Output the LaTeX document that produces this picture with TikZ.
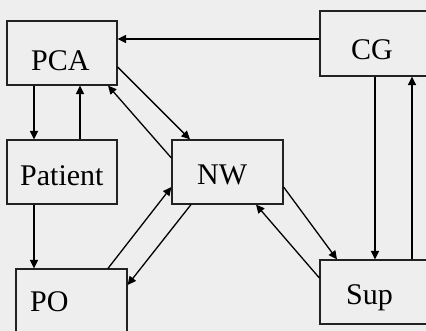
\documentclass[tikz,border=0pt]{standalone}
\usepackage{fontspec}
\setmainfont{Liberation Serif}
\usetikzlibrary{arrows.meta}
\definecolor{paper}{HTML}{EEEEEE}
\definecolor{edge}{HTML}{222222}
\begin{document}
\begin{tikzpicture}[x=1pt,y=-1pt,
  box/.style={draw=edge,fill=paper,line width=1.2pt,rectangle,inner sep=0pt,
    minimum width=111pt,minimum height=64pt},
  lbl/.style={anchor=base west,inner sep=0pt,font=\fontsize{30}{36}\selectfont},
  arr/.style={-{Triangle[length=8.5pt,width=8pt]},line width=1.3pt,black}]
  % page and clipping
  \fill[paper] (0,0) rectangle (426,331);
  \useasboundingbox (0,0) rectangle (426,331);
  \clip (0,0) rectangle (426,331);

  % boxes
  \node[box,minimum width=110pt] (pca) at (62,53) {};
  \node[box,minimum width=110pt] (patient) at (62,172) {};
  \node[box] (po) at (71.5,301) {};
  \node[box] (nw) at (227.5,172) {};
  \node[box,minimum height=65pt] (cg) at (375.5,43.5) {};
  \node[box] (sup) at (375.5,292) {};

  % labels
  \node[lbl] (tpca) at (31,71) {PCA};
  \node[lbl] (tpatient) at (20,186) {Patient};
  \node[lbl] (tpo) at (30,312) {PO};
  \node[lbl] (tnw) at (197,185) {NW};
  \node[lbl] (tcg) at (351,60) {CG};
  \node[lbl] (tsup) at (346,305) {Sup};

  % connectors
  \draw[arr] (cg.west |- 0,39) -- (pca.east |- 0,39);
  \draw[arr] (pca.south -| 34,0) -- (patient.north -| 34,0);
  \draw[arr] (patient.north -| 80,0) -- (pca.south -| 80,0);
  \draw[arr] (pca.east |- 0,67) -- (nw.north -| 190,0);
  \draw[arr] (nw.west |- 0,158) -- (pca.south -| 108,0);
  \draw[arr] (patient.south -| 34,0) -- (po.north -| 34,0);
  \draw[arr] (po.north -| 108,0) -- (nw.west |- 0,187);
  \draw[arr] (nw.south -| 191,0) -- (po.east |- 0,285);
  \draw[arr] (nw.east |- 0,187) -- (sup.north -| 337,0);
  \draw[arr] (sup.west |- 0,278) -- (nw.south -| 256,0);
  \draw[arr] (cg.south -| 375,0) -- (sup.north -| 375,0);
  \draw[arr] (sup.north -| 412,0) -- (cg.south -| 412,0);
\end{tikzpicture}
\end{document}
